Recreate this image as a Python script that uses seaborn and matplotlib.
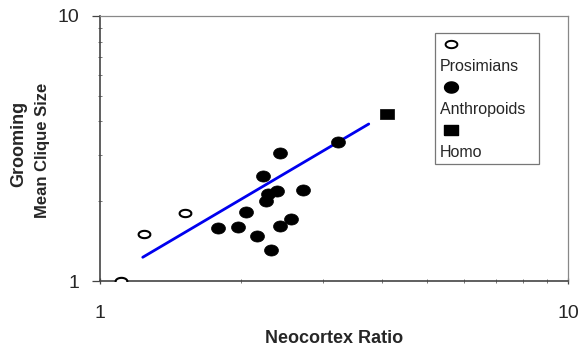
import numpy as np
import pandas as pd
import matplotlib
matplotlib.use("Agg")
import matplotlib.pyplot as plt
from matplotlib.lines import Line2D
from matplotlib.ticker import FixedLocator, FixedFormatter, LogLocator, NullFormatter
import seaborn as sns

# ── data (log-log axes) ──────────────────────────────────────────────────────
pros_x = [1.11, 1.24, 1.52]
pros_y = [1.00, 1.50, 1.81]

anth_x = [1.79, 1.97, 2.05, 2.16, 2.32, 2.23, 2.26, 2.28, 2.39, 2.42, 2.42, 2.56, 2.71, 3.22]
anth_y = [1.59, 1.60, 1.82, 1.48, 1.31, 2.50, 2.01, 2.13, 2.19, 3.03, 1.61, 1.71, 2.21, 3.34]

homo_x = [4.10]
homo_y = [4.27]

fit_x = [1.234, 3.752]
fit_y = [1.229, 3.913]

tick_vals = [1, 10]
tick_labels = ["1", "10"]

sns.set_theme(style="white")
plt.rcParams["font.family"] = ["Liberation Sans", "DejaVu Sans"]

# ellipse / rectangle marker shapes
t = np.linspace(0, 2 * np.pi, 60)
ELL_FILLED = np.column_stack([np.cos(t), 0.80 * np.sin(t)])
ELL_OPEN = np.column_stack([np.cos(t), 0.62 * np.sin(t)])
RECT = [(-1, -0.77), (1, -0.77), (1, 0.77), (-1, 0.77), (-1, -0.77)]

fig = plt.figure(figsize=(5.8, 3.48), dpi=100)
ax = fig.add_axes([100 / 580, 1 - 281 / 348, 468 / 580, 265 / 348])

pros = pd.DataFrame({"x": pros_x, "y": pros_y})
anth = pd.DataFrame({"x": anth_x, "y": anth_y})
homo = pd.DataFrame({"x": homo_x, "y": homo_y})
fit = pd.DataFrame({"x": fit_x, "y": fit_y})

sns.lineplot(data=fit, x="x", y="y", ax=ax, color="#0000ee", linewidth=2.0, zorder=2)
sns.scatterplot(data=pros, x="x", y="y", ax=ax, marker=ELL_OPEN, s=72,
                color="white", edgecolor="black", linewidth=1.5, zorder=3)
sns.scatterplot(data=anth, x="x", y="y", ax=ax, marker=ELL_FILLED, s=100,
                color="black", edgecolor="black", linewidth=0.5, zorder=3)
sns.scatterplot(data=homo, x="x", y="y", ax=ax, marker=RECT, s=90,
                color="black", edgecolor="black", linewidth=0.5, zorder=3)

ax.set_xscale("log")
ax.set_yscale("log")
ax.set_xlim(1, 10)
ax.set_ylim(1, 10)

for axis in (ax.xaxis, ax.yaxis):
    axis.set_major_locator(FixedLocator(tick_vals))
    axis.set_major_formatter(FixedFormatter(tick_labels))
    axis.set_minor_locator(LogLocator(base=10, subs=np.arange(2, 10)))
    axis.set_minor_formatter(NullFormatter())

ax.tick_params(axis="y", which="major", direction="out", length=6, width=0.9,
               color="#444444", labelsize=14, pad=9, left=True)
ax.tick_params(axis="x", which="major", direction="inout", length=4, width=0.9,
               color="#444444", labelsize=14, pad=15, bottom=True)
ax.tick_params(which="minor", direction="inout", length=3, width=0.7,
               color="#777777", left=True, bottom=True)

for side, sp in ax.spines.items():
    sp.set_color("#444444" if side in ("left", "bottom") else "#888888")
    sp.set_linewidth(1.2 if side in ("left", "bottom") else 0.9)

ax.set_xlabel("Neocortex Ratio", fontsize=13, fontweight="bold", labelpad=6)
ax.set_ylabel("")
fig.text(19 / 580, 1 - 144 / 348, "Grooming", rotation=90, ha="center", va="center",
         fontsize=13, fontweight="bold")
fig.text(43 / 580, 1 - 150 / 348, "Mean Clique Size", rotation=90, ha="center", va="center",
         fontsize=12, fontweight="bold")

# legend: marker on one row, its label on the row below
blank = Line2D([], [], linestyle="none", marker=None)
handles = [
    Line2D([], [], linestyle="none", marker=ELL_OPEN, markersize=8.5,
           markerfacecolor="white", markeredgecolor="black", markeredgewidth=1.4),
    blank,
    Line2D([], [], linestyle="none", marker=ELL_FILLED, markersize=10,
           markerfacecolor="black", markeredgecolor="black"),
    blank,
    Line2D([], [], linestyle="none", marker=RECT, markersize=9.5,
           markerfacecolor="black", markeredgecolor="black"),
    blank,
]
labels = ["", "Prosimians", "", "Anthropoids  ", "", "Homo"]
leg = ax.legend(handles, labels, loc="upper left", bbox_to_anchor=(0.716, 0.936),
                borderaxespad=0, fontsize=11.5, handlelength=1.4, handletextpad=-1.4,
                labelspacing=0.4, borderpad=0.3, fancybox=False, frameon=True)
leg.get_frame().set_edgecolor("#555555")
leg.get_frame().set_linewidth(0.9)

fig.savefig("out.png", dpi=100, facecolor="white")
plt.close(fig)
